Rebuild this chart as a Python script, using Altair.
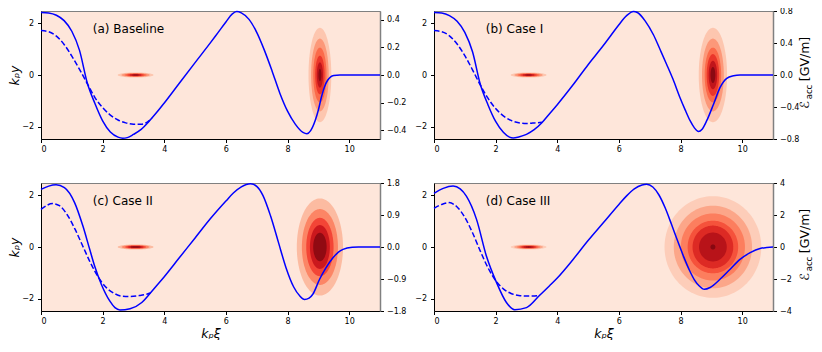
import altair as alt
import numpy as np
import pandas as pd

# ---------------- data ----------------
XI_TICKS = [0, 2, 4, 6, 8, 10]
KY_TICKS = [-2, 0, 2]
KY_RANGE = [-2.48, 2.48]

PANEL_LABELS = ["(a) Baseline", "(b) Case I", "(c) Case II", "(d) Case III"]
E_RANGES = [0.465, 0.8, 1.8, 4.0]
E_TICKS = [[-0.4, -0.2, 0.0, 0.2, 0.4], [-0.8, -0.4, 0.0, 0.4, 0.8],
           [-1.8, -0.9, 0.0, 0.9, 1.8], [-4, -2, 0, 2, 4]]
E_FORMATS = [".1f", ".1f", ".1f", "d"]

# solid line: accelerating field E_acc [GV/m]
a_xi = [0, 0.25, 0.5, 0.75, 1.0, 1.25, 1.5, 1.75, 2.0, 2.25, 2.5, 2.65, 2.8, 3.0, 3.25,
        3.5, 3.75, 4.0, 4.5, 5.0, 5.5, 5.75, 6.0, 6.2, 6.35, 6.5, 6.75, 7.0, 7.25, 7.5,
        7.75, 8.0, 8.25, 8.5, 8.63, 8.75, 8.9, 9.0, 9.1, 9.2, 9.3, 9.4, 9.5, 9.7, 11.0]
a_E = [0.455, 0.451, 0.434, 0.395, 0.318, 0.179, -0.056, -0.207, -0.333, -0.414,
       -0.451, -0.459, -0.455, -0.432, -0.395, -0.338, -0.273, -0.203, -0.056, 0.090,
       0.235, 0.310, 0.385, 0.442, 0.461, 0.451, 0.404, 0.310, 0.179, 0.028,
       -0.132, -0.263, -0.357, -0.417, -0.427, -0.404, -0.329, -0.254, -0.160, -0.085,
       -0.038, -0.013, -0.004, 0.0, 0.0]
a_dxi = [0, 0.25, 0.5, 0.75, 1.0, 1.25, 1.5, 1.75, 2.0, 2.25, 2.5, 2.75, 3.0, 3.25, 3.45, 3.6]
a_dE = [0.323, 0.314, 0.282, 0.222, 0.137, 0.041, -0.062, -0.164, -0.237, -0.291,
        -0.327, -0.348, -0.357, -0.357, -0.342, -0.314]

b_xi = [0, 0.25, 0.5, 0.75, 1.0, 1.25, 1.5, 1.75, 2.0, 2.25, 2.45, 2.57, 2.75, 3.0, 3.25,
        3.5, 3.75, 4.0, 4.5, 5.0, 5.5, 5.75, 6.0, 6.25, 6.47, 6.6, 6.85, 7.12, 7.35, 7.55,
        7.75, 7.98, 8.15, 8.31, 8.45, 8.58, 8.7, 8.85, 9.07, 9.28, 9.5, 9.72, 9.93, 11.0]
b_E = [0.781, 0.774, 0.742, 0.671, 0.532, 0.290, -0.113, -0.371, -0.581, -0.716,
       -0.777, -0.787, -0.774, -0.742, -0.684, -0.597, -0.484, -0.371, -0.129, 0.129,
       0.371, 0.500, 0.629, 0.742, 0.794, 0.781, 0.677, 0.503, 0.306, 0.132,
       -0.048, -0.281, -0.436, -0.571, -0.661, -0.706, -0.677, -0.571, -0.365, -0.158,
       -0.042, -0.010, 0.0, 0.0]
b_dxi = [0, 0.25, 0.5, 0.75, 1.0, 1.25, 1.5, 1.75, 2.0, 2.25, 2.5, 2.75, 3.0, 3.25, 3.5]
b_dE = [0.555, 0.542, 0.490, 0.387, 0.242, 0.065, -0.123, -0.290, -0.419, -0.510,
        -0.568, -0.597, -0.606, -0.600, -0.590]

c_xi = [0, 0.25, 0.49, 0.76, 1.09, 1.36, 1.58, 1.74, 1.96, 2.23, 2.4, 2.56, 2.89, 3.27,
        3.5, 3.75, 4.0, 4.5, 5.0, 5.5, 6.0, 6.25, 6.5, 6.8, 7.0, 7.2, 7.45, 7.7, 7.95,
        8.2, 8.4, 8.55, 8.7, 8.82, 9.04, 9.25, 9.48, 9.65, 9.8, 10.1, 10.3, 11.0]
c_E = [1.619, 1.713, 1.750, 1.670, 1.249, 0.588, -0.065, -0.537, -1.053, -1.517,
       -1.706, -1.771, -1.735, -1.561, -1.343, -1.089, -0.835, -0.290, 0.254, 0.799,
       1.292, 1.525, 1.692, 1.779, 1.706, 1.452, 0.871, 0.145, -0.581, -1.125,
       -1.379, -1.474, -1.437, -1.329, -0.908, -0.581, -0.298, -0.145, -0.065, -0.007,
       0.0, 0.0]
c_dxi = [0, 0.38, 0.6, 0.85, 1.1, 1.35, 1.6, 1.85, 2.1, 2.35, 2.6, 2.9, 3.2, 3.45, 3.55]
c_dE = [1.060, 1.220, 1.162, 0.908, 0.508, 0.036, -0.436, -0.835, -1.125, -1.292,
        -1.379, -1.394, -1.365, -1.321, -1.292]

d_xi = [0, 0.3, 0.62, 0.85, 1.05, 1.38, 1.7, 2.03, 2.35, 2.62, 3.0, 3.43, 3.75, 4.0,
        4.5, 5.0, 5.5, 6.0, 6.25, 6.5, 6.75, 6.9, 7.1, 7.3, 7.5, 7.7, 7.9, 8.1,
        8.3, 8.45, 8.6, 8.77, 8.96, 9.28, 9.61, 9.93, 10.26, 10.58, 11.0]
d_E = [3.355, 3.662, 3.807, 3.629, 3.178, 1.726, -0.565, -2.226, -3.468, -3.920,
       -3.791, -3.016, -2.420, -1.936, -0.807, 0.403, 1.532, 2.661, 3.194, 3.629,
       3.871, 3.920, 3.750, 3.250, 2.450, 1.450, 0.400, -0.600, -1.500, -2.050,
       -2.420, -2.645, -2.532, -2.016, -1.387, -0.774, -0.355, -0.097, 0.0]
d_dxi = [0, 0.25, 0.49, 0.75, 1.0, 1.25, 1.5, 1.75, 2.0, 2.25, 2.5, 2.75, 3.0, 3.2, 3.43]
d_dE = [2.420, 2.661, 2.774, 2.500, 1.855, 0.887, -0.242, -1.290, -2.097, -2.613,
        -2.903, -3.032, -3.065, -3.065, -3.016]

# beam density contours: centre and semi-axes (k_p units) of each filled level
DRIVER_XI = 9.05
WITNESS_XI = 3.07
drv_sx = [[0.37, 0.285, 0.215, 0.152, 0.100, 0.048],
          [0.46, 0.354, 0.267, 0.202, 0.138, 0.078],
          [0.75, 0.585, 0.443, 0.323, 0.218],
          [1.57, 1.27, 1.04, 0.82, 0.66, 0.45, 0.08]]
drv_sy = [[1.83, 1.41, 1.06, 0.75, 0.49, 0.24],
          [1.83, 1.41, 1.06, 0.81, 0.55, 0.31],
          [1.88, 1.47, 1.13, 0.85, 0.55],
          [1.97, 1.60, 1.30, 1.02, 0.83, 0.56, 0.10]]
wit_sx = [[0.58, 0.46, 0.36, 0.27, 0.19, 0.10],
          [0.58, 0.46, 0.36, 0.27, 0.19, 0.10],
          [0.58, 0.45, 0.34, 0.25, 0.17],
          [0.58, 0.47, 0.38, 0.30, 0.24, 0.17, 0.09]]
wit_sy = [[0.10, 0.08, 0.062, 0.046, 0.032, 0.018],
          [0.10, 0.08, 0.062, 0.046, 0.032, 0.018],
          [0.10, 0.078, 0.059, 0.043, 0.029],
          [0.10, 0.081, 0.066, 0.052, 0.042, 0.029, 0.015]]

BG = "#fee6da"
LEVEL_COLORS = [
    ["#fdc6af", "#fc9879", "#fb6a4a", "#ea362a", "#c0151b", "#8a0912"],
    ["#fdc6af", "#fc9879", "#fb6a4a", "#ea362a", "#c0151b", "#8a0912"],
    ["#fcbba1", "#fc8565", "#f34536", "#cb181d", "#900a12"],
    ["#fdcdb9", "#fca689", "#fc7e5e", "#f5523b", "#dd2a24", "#b81319", "#860811"],
]

LINES = [(a_xi, a_E, a_dxi, a_dE), (b_xi, b_E, b_dxi, b_dE),
         (c_xi, c_E, c_dxi, c_dE), (d_xi, d_E, d_dxi, d_dE)]

W, H = 339, 128
FONT = "DejaVu Sans"


def ellipse_df(i):
    rows = []
    t = np.linspace(np.pi, 0, 64)
    for obj, x0, sx, sy in (("w", WITNESS_XI, wit_sx[i], wit_sy[i]),
                            ("d", DRIVER_XI, drv_sx[i], drv_sy[i])):
        for lev, (ax, by) in enumerate(zip(sx, sy)):
            for xx, hh in zip(x0 + ax * np.cos(t), by * np.sin(t)):
                rows.append({"obj": obj, "level": lev, "x": xx, "lo": -hh, "hi": hh})
    return pd.DataFrame(rows)


def panel(i):
    left_col = i in (0, 2)
    bottom = i in (2, 3)
    xaxis = alt.Axis(values=XI_TICKS, format="d", tickSize=3.5, labelPadding=3,
                     labelFontSize=8, labelColor="black", tickColor="black",
                     domainColor="black", grid=False,
                     title="kₚξ" if bottom else None, titleFontSize=12.5,
                     titleFontStyle="italic", titleFontWeight="normal",
                     titlePadding=1, minExtent=15, maxExtent=15)
    xenc = alt.X("x:Q", scale=alt.Scale(domain=[0, 11], nice=False), axis=xaxis)
    kyaxis = alt.Axis(values=KY_TICKS, format="d", tickSize=3.5, labelPadding=4,
                      labelFontSize=8, labelColor="black", tickColor="black",
                      domainColor="black", grid=False, orient="left",
                      title="kₚy" if left_col else None, titleFontSize=12.5,
                      titleFontStyle="italic", titleFontWeight="normal",
                      titlePadding=0, minExtent=20 if left_col else 22,
                      maxExtent=20 if left_col else 22)
    kyscale = alt.Scale(domain=KY_RANGE, nice=False)

    edf = ellipse_df(i)
    clayers = []
    for lev, col in enumerate(LEVEL_COLORS[i]):
        clayers.append(
            alt.Chart(edf).transform_filter(alt.datum.level == lev)
            .mark_area(color=col, opacity=1, interpolate="linear")
            .encode(x=xenc, y=alt.Y("lo:Q", scale=kyscale, axis=kyaxis),
                    y2="hi:Q", detail="obj:N"))
    lab = pd.DataFrame({"x": [1.68], "y": [1.8], "t": [PANEL_LABELS[i]]})
    clayers.append(
        alt.Chart(lab).mark_text(align="left", baseline="middle", fontSize=12,
                                 font=FONT, color="black")
        .encode(x=xenc, y=alt.Y("y:Q", scale=kyscale, axis=kyaxis), text="t:N"))
    contour = alt.layer(*clayers)

    xi, E, dxi, dE = LINES[i]
    emax = E_RANGES[i]
    eaxis = alt.Axis(values=E_TICKS[i], format=E_FORMATS[i], orient="right",
                     tickSize=3.5, labelPadding=3, labelFontSize=8, labelColor="black",
                     tickColor="black", domainColor="#808080", domainWidth=1.5,
                     grid=False, title=None, minExtent=28, maxExtent=28)
    escale = alt.Scale(domain=[-emax, emax], nice=False)
    solid = alt.Chart(pd.DataFrame({"x": xi, "E": E})).mark_line(
        color="#0000ff", strokeWidth=1.5, interpolate="monotone").encode(
        x=xenc, y=alt.Y("E:Q", scale=escale, axis=eaxis))
    dashed = alt.Chart(pd.DataFrame({"x": dxi, "E": dE})).mark_line(
        color="#0000ff", strokeWidth=1.5, strokeDash=[5.5, 2.4],
        interpolate="monotone").encode(
        x=xenc, y=alt.Y("E:Q", scale=escale, axis=eaxis))
    lines = alt.layer(solid, dashed)

    extra = []
    if not left_col:
        pieces = pd.DataFrame({"t": ["ℰ", "acc", "[GV/m]"],
                               "px": [371, 375, 371], "py": [94, 81, 48],
                               "fs": [12.5, 8.5, 12.5]})
        for _, r in pieces.iterrows():
            extra.append(
                alt.Chart(pd.DataFrame({"t": [r["t"]]})).mark_text(
                    angle=270, align="center", baseline="middle",
                    fontSize=float(r["fs"]), font=FONT, color="black")
                .encode(x=alt.value(float(r["px"])), y=alt.value(float(r["py"])),
                        text="t:N"))
    return alt.layer(contour, lines, *extra).resolve_scale(y="independent").properties(
        width=W, height=H)


top = alt.hconcat(panel(0), panel(1), spacing=2)
bot = alt.hconcat(panel(2), panel(3), spacing=2)
chart = alt.vconcat(top, bot, spacing=23).properties(
    padding={"left": -1, "top": -2, "right": 0, "bottom": 0}
).configure_view(fill=BG, stroke="#808080", strokeWidth=1).configure_axis(
    labelFont=FONT, titleFont=FONT, grid=False)

chart.save("out.html", embed_options={"renderer": "svg", "actions": False})
